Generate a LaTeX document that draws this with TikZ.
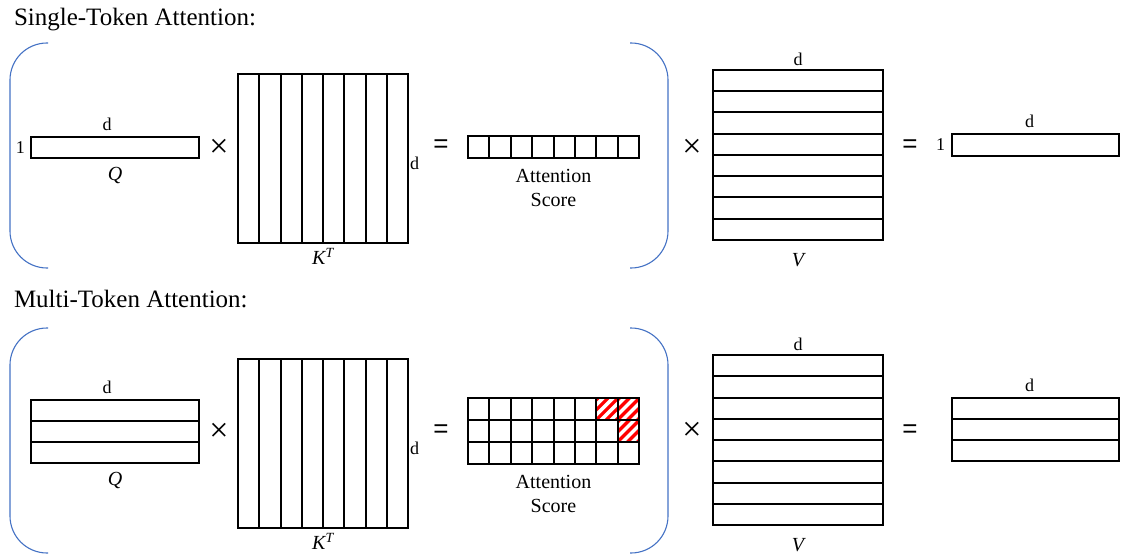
\documentclass[tikz,border=0pt]{standalone}
\usepackage{fontspec}
\setmainfont{Liberation Serif}
\newfontfamily\opfont{Liberation Sans}
\newfontfamily\crossfont{Liberation Serif}
\usetikzlibrary{positioning,calc}
\definecolor{ink}{HTML}{000000}
\definecolor{bracketblue}{HTML}{4472C4}
\definecolor{hatchred}{HTML}{FF0000}
\tikzset{
  every node/.style={inner sep=0pt, outer sep=0pt},
  mat/.style={draw=ink, line width=2pt, fill=white},
  cellline/.style={draw=ink, line width=2pt},
  bracket/.style={draw=bracketblue, line width=1.1pt, rounded corners=37pt},
  title/.style={font=\fontsize{25}{28}\selectfont, anchor=base west},
  dimlabel/.style={font=\fontsize{18}{20}\selectfont},
  namelabel/.style={font=\fontsize{20}{20}\selectfont\itshape},
  scorelabel/.style={font=\fontsize{20}{24}\selectfont, align=center},
  op/.style={font=\opfont\fontsize{26}{26}\selectfont},
  cross/.style={font=\crossfont\fontsize{34}{34}\selectfont},
  hatch/.style={draw=hatchred, line width=3.2pt},
}
% red stripes in one cell: x, y (top left), width, height
\newcommand{\hatchcell}[4]{%
  \begin{scope}
    \clip (#1,#2) rectangle ++(#3,#4);
    \foreach \k in {-30,-20,...,30}
      \draw[hatch] (#1+\k,#2+#4) -- ++(#4,-#4);
  \end{scope}}

\begin{document}
\begin{tikzpicture}[x=1pt, y=-1pt]
\useasboundingbox (0,0) rectangle (1122,556);

% ---- single token ----
\node[title] (t1) at (14,26) {Single-Token Attention:};
\draw[bracket] (48,43) -- (10,43) -- (10,268) -- (48,268);
\draw[bracket] (630,43) -- (668,43) -- (668,268) -- (630,268);

\node[mat, minimum width=168pt, minimum height=21pt] (q1) at (115,147.5) {};
\node[dimlabel, left=6pt of q1] (q1n) {1};
\node[dimlabel, above=6pt of q1, xshift=-8pt] (q1d) {d};
\node[namelabel, below=9pt of q1] (q1l) {Q};
\node[cross] (x1a) at (219,148) {×};

\node[mat, minimum width=170pt, minimum height=169pt] (k1) at (323,158.5) {};
\foreach \i in {1,...,7}
  \draw[cellline] ($(k1.north west)!\i/8!(k1.north east)$) -- ($(k1.south west)!\i/8!(k1.south east)$);
\node[dimlabel, anchor=west, xshift=2pt, yshift=-5pt] (k1d) at (k1.east) {d};
\node[namelabel, below=5pt of k1] (k1l) {K\textsuperscript{T}};
\node[op] (e1a) at (441,146) {=};

\node[mat, minimum width=171pt, minimum height=22pt] (s1) at (553.5,147) {};
\foreach \i in {1,...,7}
  \draw[cellline] ($(s1.north west)!\i/8!(s1.north east)$) -- ($(s1.south west)!\i/8!(s1.south east)$);
\node[scorelabel, below=11pt of s1] (s1l) {Attention\\Score};
\node[cross] (x1b) at (692,148) {×};

\node[mat, minimum width=170pt, minimum height=170pt] (v1) at (798,155) {};
\foreach \i in {1,...,7}
  \draw[cellline] ($(v1.north west)!\i/8!(v1.south west)$) -- ($(v1.north east)!\i/8!(v1.south east)$);
\node[dimlabel, above=4pt of v1] (v1d) {d};
\node[namelabel, below=13pt of v1] (v1l) {V};
\node[op] (e1b) at (910,146) {=};

\node[mat, minimum width=167pt, minimum height=22pt] (o1) at (1035.5,145) {};
\node[dimlabel, left=7pt of o1] (o1n) {1};
\node[dimlabel, above=6pt of o1, xshift=-6pt] (o1d) {d};

% ---- multi token ----
\node[title] (t2) at (14,307) {Multi-Token Attention:};
\draw[bracket] (48,328) -- (10,328) -- (10,553) -- (48,553);
\draw[bracket] (630,328) -- (668,328) -- (668,553) -- (630,553);

\node[mat, minimum width=168pt, minimum height=63pt] (q2) at (115,431.5) {};
\foreach \i in {1,2}
  \draw[cellline] ($(q2.north west)!\i/3!(q2.south west)$) -- ($(q2.north east)!\i/3!(q2.south east)$);
\node[dimlabel, above=6pt of q2, xshift=-8pt] (q2d) {d};
\node[namelabel, below=9pt of q2] (q2l) {Q};
\node[cross] (x2a) at (219,432) {×};

\node[mat, minimum width=170pt, minimum height=169pt] (k2) at (323,443.5) {};
\foreach \i in {1,...,7}
  \draw[cellline] ($(k2.north west)!\i/8!(k2.north east)$) -- ($(k2.south west)!\i/8!(k2.south east)$);
\node[dimlabel, anchor=west, xshift=2pt, yshift=-5pt] (k2d) at (k2.east) {d};
\node[namelabel, below=5pt of k2] (k2l) {K\textsuperscript{T}};
\node[op] (e2a) at (441,431) {=};

\node[mat, minimum width=171pt, minimum height=66pt] (s2) at (553.5,431) {};
\hatchcell{596.1}{398}{21.4}{22}
\hatchcell{617.5}{398}{21.5}{22}
\hatchcell{617.5}{420}{21.5}{22}
\foreach \i in {1,...,7}
  \draw[cellline] ($(s2.north west)!\i/8!(s2.north east)$) -- ($(s2.south west)!\i/8!(s2.south east)$);
\foreach \i in {1,2}
  \draw[cellline] ($(s2.north west)!\i/3!(s2.south west)$) -- ($(s2.north east)!\i/3!(s2.south east)$);
\draw[cellline] (s2.north west) rectangle (s2.south east);
\node[scorelabel, below=11pt of s2] (s2l) {Attention\\Score};
\node[cross] (x2b) at (692,431) {×};

\node[mat, minimum width=170pt, minimum height=170pt] (v2) at (798,440) {};
\foreach \i in {1,...,7}
  \draw[cellline] ($(v2.north west)!\i/8!(v2.south west)$) -- ($(v2.north east)!\i/8!(v2.south east)$);
\node[dimlabel, above=4pt of v2] (v2d) {d};
\node[namelabel, below=13pt of v2] (v2l) {V};
\node[op] (e2b) at (910,431) {=};

\node[mat, minimum width=167pt, minimum height=63pt] (o2) at (1035.5,429.5) {};
\foreach \i in {1,2}
  \draw[cellline] ($(o2.north west)!\i/3!(o2.south west)$) -- ($(o2.north east)!\i/3!(o2.south east)$);
\node[dimlabel, above=6pt of o2, xshift=-6pt] (o2d) {d};
\end{tikzpicture}
\end{document}
